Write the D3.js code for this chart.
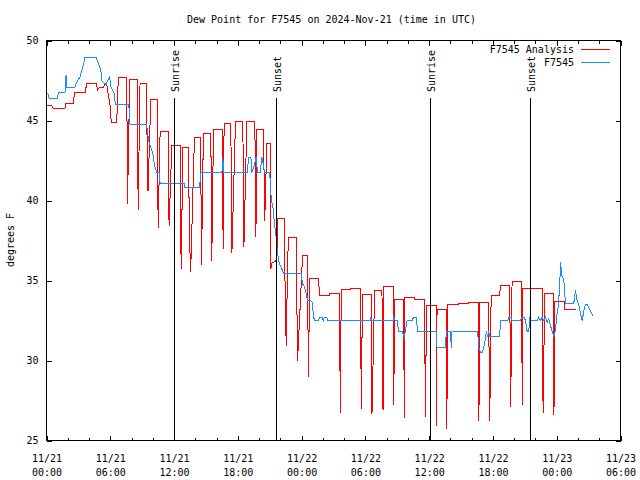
<!DOCTYPE html>
<html>
<head>
<meta charset="utf-8">
<script src="https://cdn.jsdelivr.net/npm/d3@7"></script>
<style>
body{margin:0;background:#fff}
svg text{font-family:"DejaVu Sans Mono",monospace;font-size:10px;fill:#000}
</style>
</head>
<body>
<svg id="chart" width="640" height="480"></svg>
<script>
// hours after 2024-11-21 00:00 UTC
let startUtc = Date.UTC(2024, 10, 21, 0, 0);

let tickHours = [0, 6, 12, 18, 24, 30, 36, 42, 48, 54];
let tickDays = ["11/21","11/21","11/21","11/21","11/22","11/22","11/22","11/22","11/23","11/23"];
let tickTimes = ["00:00","06:00","12:00","18:00","00:00","06:00","12:00","18:00","00:00","06:00"];
let yTicks = [25, 30, 35, 40, 45, 50];

let sunNames = ["Sunrise", "Sunset", "Sunrise", "Sunset"];
let sunHours = [12.0, 21.61, 36.11, 45.53];

let seriesNames = ["F7545 Analysis", "F7545"];
let seriesColors = ["#ff0000", "#1a8cff"];

// F7545 Analysis [hour, dew point F]
let analysis = [
[0.00,45.94],[0.49,45.94],[0.64,45.73],[1.74,45.73],[1.76,46.08],[2.52,46.08],[2.55,46.35],[2.68,46.77],
[3.63,46.77],[3.79,47.30],[4.73,47.30],[4.78,46.90],[4.97,47.08],[5.35,47.08],[5.51,47.30],[5.67,47.30],
[5.72,47.00],[5.82,46.60],[5.98,45.94],[6.07,45.10],[6.14,44.90],[6.61,44.90],[6.67,46.10],[6.76,47.70],
[7.55,47.70],[7.62,39.80],[7.83,47.55],[8.55,47.55],[8.62,39.40],[8.80,47.33],[9.37,47.33],[9.55,40.60],
[9.81,46.30],[10.43,46.30],[10.50,38.30],[10.69,44.30],[11.47,44.30],[11.53,38.40],[11.79,43.44],
[12.57,43.44],[12.63,37.50],[12.68,35.73],[12.82,43.29],[13.35,43.29],[13.45,37.80],[13.56,35.52],
[13.92,43.96],[14.50,43.96],[14.58,35.94],[14.76,44.17],[15.46,44.17],[15.55,36.25],[15.71,44.45],
[16.53,44.45],[16.62,36.98],[16.71,44.83],[17.34,44.83],[17.44,36.70],[17.78,44.96],[18.47,44.96],
[18.57,37.08],[18.85,44.94],[19.60,44.94],[19.70,37.70],[19.79,44.42],[20.41,44.42],[20.53,38.75],
[20.73,43.54],[21.05,43.54],[21.11,35.73],[21.21,36.10],[21.52,36.20],[21.66,36.30],[21.75,38.85],
[22.39,38.85],[22.44,34.90],[22.55,30.90],[22.69,36.30],[22.77,37.67],[23.49,37.67],[23.55,33.85],
[23.62,30.00],[23.80,32.50],[24.09,36.56],[24.56,36.56],[24.60,32.04],[24.65,28.96],[24.75,35.10],
[25.59,35.10],[25.69,34.06],[26.63,34.06],[26.64,34.17],[27.57,34.17],[27.60,30.52],[27.64,26.73],
[27.73,34.42],[28.58,34.42],[28.60,34.48],[29.52,34.48],[29.56,30.83],[29.64,26.98],[29.71,34.10],
[30.53,34.10],[30.56,32.50],[30.58,28.54],[30.62,26.67],[30.87,34.38],[31.56,34.38],[31.60,30.00],
[31.66,26.90],[31.71,34.60],[32.60,34.60],[32.64,30.90],[32.67,27.25],[32.75,33.80],[33.60,33.80],
[33.62,31.00],[33.66,26.40],[33.69,33.96],[34.63,33.96],[34.64,33.80],[35.57,33.80],[35.60,30.30],
[35.67,26.46],[35.73,33.43],[36.65,33.43],[36.68,29.90],[36.70,25.90],[36.74,33.17],[37.59,33.17],
[37.62,29.70],[37.66,25.69],[37.74,33.48],[38.72,33.48],[38.73,33.54],[39.66,33.54],[39.67,33.65],
[40.60,33.65],[40.63,29.80],[40.68,26.19],[40.75,33.65],[41.60,33.65],[41.64,29.90],[41.70,26.19],
[41.83,34.06],[42.64,34.06],[42.70,34.69],[43.58,34.69],[43.62,30.98],[43.67,27.10],[43.80,34.94],
[44.68,34.94],[44.72,30.94],[44.77,27.25],[44.82,34.48],[46.63,34.48],[46.67,30.62],[46.72,26.73],
[46.87,34.20],[47.66,34.20],[47.70,30.62],[47.74,26.60],[47.82,33.69],[48.73,33.69],[48.76,33.17],
[49.86,33.17]
];

// F7545 observed [hour, dew point F]
let observed = [
[0.02,46.67],[0.14,46.67],[0.26,46.36],[1.02,46.36],[1.11,46.73],[1.74,46.73],[1.84,47.86],[1.90,47.08],
[2.68,47.08],[2.84,47.39],[3.15,47.71],[3.41,48.33],[3.63,48.96],[4.66,48.96],[4.78,48.75],[4.97,48.44],
[5.13,48.02],[5.20,47.50],[5.35,47.39],[5.60,47.25],[5.76,47.50],[5.91,47.71],[6.05,47.29],[6.07,47.08],
[6.23,46.88],[6.38,46.67],[6.48,46.00],[7.70,46.00],[7.80,45.63],[7.86,44.73],[9.37,44.73],[9.49,44.48],
[9.59,43.75],[9.91,43.13],[10.06,42.71],[10.15,42.19],[10.38,41.77],[10.62,41.77],[10.69,41.04],
[12.95,41.04],[13.04,40.79],[14.39,40.79],[14.52,41.73],[16.50,41.73],[16.59,42.71],[16.65,41.73],
[18.91,41.73],[19.00,42.71],[19.23,42.71],[19.32,41.73],[19.57,42.25],[19.73,42.71],[19.85,41.73],
[20.10,41.73],[20.26,42.71],[20.41,42.25],[20.51,41.73],[20.98,41.73],[21.05,41.25],[21.14,40.11],
[21.30,39.58],[21.42,38.75],[21.52,38.13],[21.61,37.71],[21.68,37.08],[21.83,36.25],[21.99,35.94],
[22.30,35.46],[23.94,35.46],[24.09,34.79],[24.25,34.63],[24.43,34.17],[24.56,33.75],[24.97,33.71],
[25.07,33.13],[25.19,32.50],[25.59,32.50],[25.69,32.71],[25.91,32.71],[26.04,32.50],[26.13,32.71],
[26.37,32.71],[26.48,32.50],[30.46,32.50],[30.51,32.71],[30.56,32.50],[32.60,32.50],[32.66,32.71],
[32.82,32.50],[32.98,32.50],[33.07,32.08],[33.13,31.81],[33.45,31.81],[33.57,31.63],[33.66,31.46],
[33.82,32.08],[33.92,32.50],[34.39,32.50],[34.54,32.71],[34.79,32.71],[34.92,31.81],[36.68,31.81],
[36.74,30.79],[37.52,30.79],[37.62,31.81],[37.99,31.81],[38.09,30.79],[38.15,31.81],[40.56,31.81],
[40.66,30.83],[40.82,30.52],[41.01,30.52],[41.13,30.83],[41.29,31.36],[41.38,31.81],[41.51,31.50],
[41.60,31.81],[41.70,31.50],[42.64,31.50],[42.70,32.50],[43.40,32.50],[43.50,32.71],[43.70,32.71],
[43.80,32.50],[44.59,32.50],[44.68,32.71],[44.90,32.71],[45.06,32.50],[45.22,31.81],[45.37,31.81],
[45.46,32.71],[45.53,32.50],[46.16,32.50],[46.31,32.71],[46.47,32.50],[46.63,32.71],[46.78,32.50],
[46.94,32.71],[47.10,32.39],[47.25,32.61],[47.41,32.19],[47.57,31.81],[47.72,31.50],[47.88,31.88],
[48.04,33.02],[48.14,33.33],[48.29,34.79],[48.35,36.14],[48.45,35.63],[48.51,35.21],[48.66,35.11],
[48.82,33.54],[49.60,33.54],[49.76,34.38],[49.92,33.75],[50.08,33.44],[50.24,32.92],[50.40,32.50],
[50.55,33.13],[50.71,33.50],[50.87,33.50],[51.02,33.29],[51.18,33.08],[51.43,32.77]
];

let toDate = (h) => new Date(startUtc + h * 3600000);

let L = 46.5, R = 620.5, T = 40.5, B = 440.5;

let svg = d3.select("#chart");

let x = d3.scaleUtc()
    .domain([toDate(tickHours[0]), toDate(tickHours[tickHours.length - 1])])
    .range([L, R]);
let y = d3.scaleLinear().domain([25, 50]).range([B, T]);

let minorDates = d3.utcHour.every(2).range(toDate(0), toDate(54.01));
let majorDates = tickHours.map(toDate);

// minor ticks bottom + top
svg.append("g").attr("transform", "translate(0," + B + ")")
    .call(d3.axisBottom(x).tickValues(minorDates).tickSizeInner(-3).tickSizeOuter(0).tickFormat(""));
svg.append("g").attr("transform", "translate(0," + T + ")")
    .call(d3.axisTop(x).tickValues(minorDates).tickSizeInner(-3).tickSizeOuter(0).tickFormat(""));

// major ticks with two-line labels
let xAxis = svg.append("g").attr("transform", "translate(0," + B + ")")
    .call(d3.axisBottom(x).tickValues(majorDates).tickSizeInner(-5).tickSizeOuter(0).tickPadding(0));
xAxis.selectAll(".tick text").each(function(d, i) {
    let t = d3.select(this).text("").attr("dy", null).attr("y", 0);
    t.append("tspan").attr("x", 0).attr("y", 21).text(tickDays[i]);
    t.append("tspan").attr("x", 0).attr("y", 35).text(tickTimes[i]);
});
svg.append("g").attr("transform", "translate(0," + T + ")")
    .call(d3.axisTop(x).tickValues(majorDates).tickSizeInner(-5).tickSizeOuter(0).tickFormat(""));

// y axis left with labels, right mirrored
svg.append("g").attr("transform", "translate(" + L + ",0)")
    .call(d3.axisLeft(y).tickValues(yTicks).tickSizeInner(-5).tickSizeOuter(0).tickPadding(8));
svg.append("g").attr("transform", "translate(" + R + ",0)")
    .call(d3.axisRight(y).tickValues(yTicks).tickSizeInner(-5).tickSizeOuter(0).tickFormat(""));

svg.selectAll(".domain").remove();
svg.selectAll(".tick line").attr("stroke", "#000").attr("shape-rendering", "crispEdges");
svg.selectAll(".tick text").attr("font-family", null).attr("font-size", null);

// frame
svg.append("rect")
    .attr("x", L).attr("y", T).attr("width", R - L).attr("height", B - T)
    .attr("fill", "none").attr("stroke", "#000").attr("shape-rendering", "crispEdges");

let line = d3.line()
    .x((d) => x(toDate(d[0])))
    .y((d) => y(d[1]));

[analysis, observed].forEach((s, i) => {
    svg.append("path")
        .datum(s)
        .attr("d", line)
        .attr("fill", "none")
        .attr("stroke", seriesColors[i])
        .attr("stroke-width", 1)
        .attr("shape-rendering", "crispEdges");
});

// sunrise / sunset markers
let sun = svg.selectAll(".sun")
    .data(sunHours)
    .enter()
    .append("g")
    .attr("class", "sun")
    .attr("transform", (d) => "translate(" + (Math.round(x(toDate(d))) + 0.5) + ",0)");
sun.append("line")
    .attr("y1", 98).attr("y2", B)
    .attr("stroke", "#000").attr("shape-rendering", "crispEdges");
sun.append("text")
    .attr("transform", "translate(4,92) rotate(-90)")
    .text((d, i) => sunNames[i]);

// title and y label
svg.append("text")
    .attr("x", (L + R) / 2 - 2).attr("y", 23)
    .attr("text-anchor", "middle")
    .text("Dew Point for F7545 on 2024-Nov-21 (time in UTC)");
svg.append("text")
    .attr("transform", "translate(14,240) rotate(-90)")
    .attr("text-anchor", "middle")
    .text("degrees F");

// legend
let legend = svg.selectAll(".legend")
    .data(seriesNames)
    .enter()
    .append("g")
    .attr("class", "legend")
    .attr("transform", (d, i) => "translate(0," + (49.5 + i * 13) + ")");
legend.append("text")
    .attr("x", 574).attr("y", 3.5)
    .attr("text-anchor", "end")
    .text((d) => d);
legend.append("line")
    .attr("x1", 581).attr("x2", 610)
    .attr("stroke", (d, i) => seriesColors[i])
    .attr("stroke-width", 1)
    .attr("shape-rendering", "crispEdges");
</script>
</body>
</html>
